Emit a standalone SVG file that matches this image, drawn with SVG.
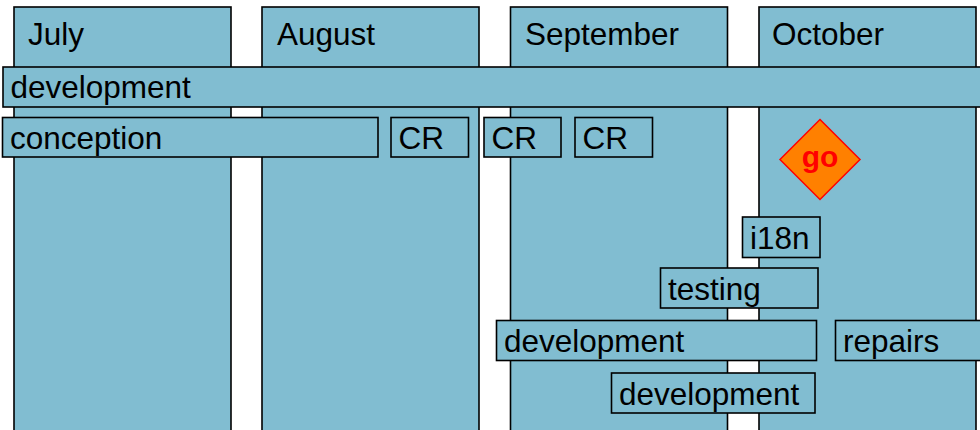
<svg xmlns="http://www.w3.org/2000/svg" width="980" height="430" viewBox="0 0 980 430">
<style>
.box{fill:#81bdd1;stroke:#000;stroke-width:1.6}
.t{font-family:"Liberation Sans",Arial,sans-serif;font-size:31.5px;fill:#000}
.go{font-family:"Liberation Sans",Arial,sans-serif;font-size:30px;font-weight:bold;fill:#ff0000}
</style>
<rect width="980" height="430" fill="#fff"/>
<g id="month-july"><rect class="box" x="14" y="7" width="217" height="440"/><text class="t" x="28" y="45">July</text></g>
<g id="month-august"><rect class="box" x="262" y="7" width="217" height="440"/><text class="t" x="277" y="45">August</text></g>
<g id="month-september"><rect class="box" x="510.5" y="7" width="217" height="440"/><text class="t" x="525" y="45">September</text></g>
<g id="month-october"><rect class="box" x="759" y="7" width="217" height="440"/><text class="t" x="772" y="45">October</text></g>
<g id="development-main"><rect class="box" x="3" y="67" width="1000" height="40"/><text class="t" x="10.5" y="98">development</text></g>
<g id="conception"><rect class="box" x="2.5" y="117.5" width="375.5" height="39.5"/><text class="t" x="10" y="149">conception</text></g>
<g id="cr1"><rect class="box" x="391" y="117.5" width="77.5" height="39.5"/><text class="t" x="398.5" y="149">CR</text></g>
<g id="cr2"><rect class="box" x="484" y="117.5" width="77" height="39.5"/><text class="t" x="491.5" y="149">CR</text></g>
<g id="cr3"><rect class="box" x="575" y="117.5" width="77.5" height="39.5"/><text class="t" x="582.5" y="149">CR</text></g>
<g id="go"><polygon points="820,119.5 860,159.5 820,199.5 780,159.5" fill="#ff8000" stroke="#ff0000" stroke-width="1.5"/><text class="go" x="820" y="166.5" text-anchor="middle">go</text></g>
<g id="i18n"><rect class="box" x="742.5" y="217" width="77.5" height="40.5"/><text class="t" x="750" y="249">i18n</text></g>
<g id="testing"><rect class="box" x="660.5" y="268" width="157.5" height="40"/><text class="t" x="668" y="300">testing</text></g>
<g id="development-2"><rect class="box" x="496.5" y="320.5" width="320" height="40"/><text class="t" x="504" y="352">development</text></g>
<g id="repairs"><rect class="box" x="835.5" y="320.5" width="200" height="40"/><text class="t" x="843" y="352">repairs</text></g>
<g id="development-3"><rect class="box" x="611.5" y="373" width="203.5" height="40"/><text class="t" x="619" y="405">development</text></g>
<g id="connectors"></g>
</svg>
